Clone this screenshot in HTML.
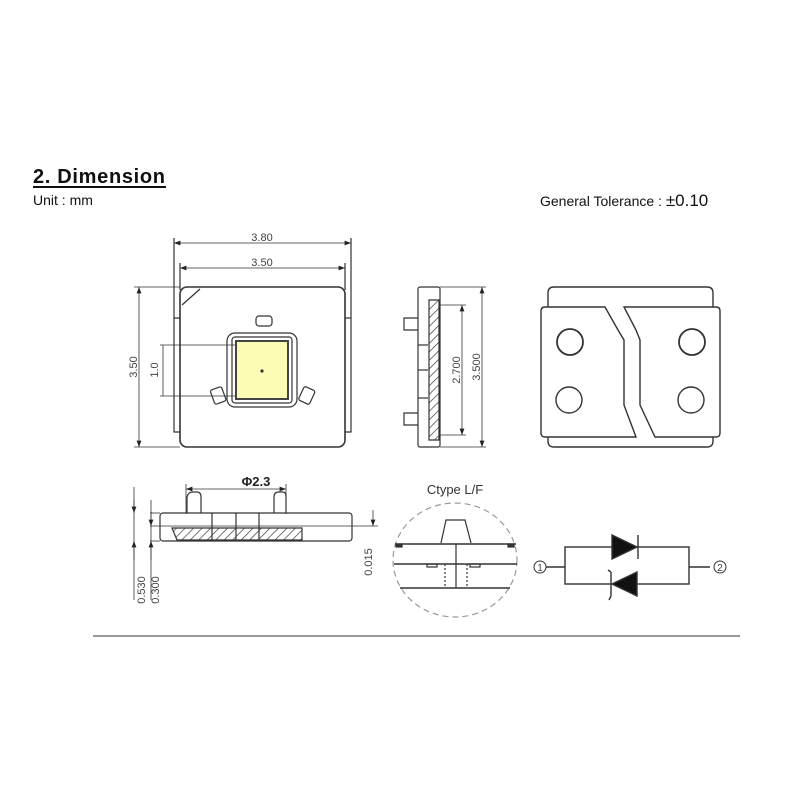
<!DOCTYPE html>
<html><head><meta charset="utf-8"><style>
html,body{margin:0;padding:0;background:#fff;}
svg{display:block;font-family:"Liberation Sans",sans-serif;}
</style></head><body>
<svg width="800" height="800" viewBox="0 0 800 800" xmlns="http://www.w3.org/2000/svg">
<defs>
<pattern id="h" width="6" height="6" patternUnits="userSpaceOnUse" patternTransform="rotate(45)">
<line x1="0" y1="0" x2="0" y2="6" stroke="#333" stroke-width="1.3"/></pattern>
<marker id="a" markerWidth="8" markerHeight="6" refX="8" refY="3" orient="auto-start-reverse"><path d="M0,0L8,3L0,6z" fill="#222"/></marker>
</defs>
<text x="33" y="183" font-size="20" font-weight="bold" fill="#111" textLength="132">2. Dimension</text>
<line x1="33" y1="187" x2="166" y2="187" stroke="#111" stroke-width="2"/>
<text x="33" y="205" font-size="14" fill="#111">Unit : mm</text>
<text x="540" y="206" font-size="14" fill="#111">General Tolerance : <tspan font-size="17">±0.10</tspan></text>

<g fill="none" stroke="#333" stroke-width="1.2">
<line x1="174" y1="238" x2="174" y2="318"/><line x1="351" y1="238" x2="351" y2="318"/>
<line x1="174" y1="243" x2="351" y2="243" marker-start="url(#a)" marker-end="url(#a)" stroke-width="0.8"/>
<line x1="180" y1="263" x2="180" y2="290"/><line x1="345" y1="263" x2="345" y2="290"/>
<line x1="180" y1="268" x2="345" y2="268" marker-start="url(#a)" marker-end="url(#a)" stroke-width="0.8"/>
<path d="M180,318 H174 V432 H180 M345,318 H351 V432 H345"/>
<rect x="180" y="287" width="165" height="160" rx="7" stroke-width="1.6"/>
<path d="M182,305 L200,289"/>
<line x1="134" y1="287" x2="180" y2="287" stroke-width="0.8"/><line x1="134" y1="447" x2="180" y2="447" stroke-width="0.8"/>
<line x1="139" y1="287" x2="139" y2="447" marker-start="url(#a)" marker-end="url(#a)" stroke-width="0.8"/>
<line x1="160" y1="345" x2="236" y2="345" stroke-width="0.8"/><line x1="160" y1="396" x2="236" y2="396" stroke-width="0.8"/>
<line x1="163" y1="345" x2="163" y2="396" stroke-width="0.8"/>
<rect x="256" y="316" width="16" height="10" rx="3"/>
<rect x="227" y="333" width="70" height="74" rx="8"/>
<rect x="232" y="337" width="60" height="66" rx="3"/>
<rect x="236" y="341" width="52" height="58" fill="#fdfcb4" stroke="#444" stroke-width="2"/>
<circle cx="262" cy="371" r="1" fill="#333"/>
<rect x="212" y="388" width="12" height="15" rx="2" transform="rotate(-20 218 395)"/>
<rect x="301" y="388" width="12" height="15" rx="2" transform="rotate(25 307 395)"/>
</g>
<g font-size="11" fill="#444">
<text x="262" y="241" text-anchor="middle">3.80</text>
<text x="262" y="266" text-anchor="middle">3.50</text>
<text transform="translate(137,367) rotate(-90)" text-anchor="middle">3.50</text>
<text transform="translate(158,370) rotate(-90)" text-anchor="middle">1.0</text>
<text transform="translate(460,370) rotate(-90)" text-anchor="middle">2.700</text>
<text transform="translate(480,367) rotate(-90)" text-anchor="middle">3.500</text>
<text transform="translate(145,590) rotate(-90)" text-anchor="middle">0.530</text>
<text transform="translate(159,590) rotate(-90)" text-anchor="middle">0.300</text>
<text transform="translate(372,562) rotate(-90)" text-anchor="middle">0.015</text>
</g>

<g fill="none" stroke="#333" stroke-width="1.2">
<rect x="418" y="287" width="22" height="160" rx="2"/>
<path d="M429,300 H439 V440 H429 Z" fill="url(#h)"/>
<path d="M418,318 H404 V330 H418 M418,413 H404 V425 H418"/>
<line x1="418" y1="345" x2="428" y2="345"/><line x1="418" y1="370" x2="428" y2="370"/><line x1="418" y1="398" x2="428" y2="398"/>
<line x1="440" y1="305" x2="466" y2="305" stroke-width="0.8"/><line x1="440" y1="435" x2="466" y2="435" stroke-width="0.8"/>
<line x1="462" y1="305" x2="462" y2="435" marker-start="url(#a)" marker-end="url(#a)" stroke-width="0.8"/>
<line x1="440" y1="287" x2="486" y2="287" stroke-width="0.8"/><line x1="440" y1="447" x2="486" y2="447" stroke-width="0.8"/>
<line x1="482" y1="287" x2="482" y2="447" marker-start="url(#a)" marker-end="url(#a)" stroke-width="0.8"/>
</g>

<g fill="none" stroke="#333" stroke-width="1.4">
<path d="M548,307 V293 Q548,287 554,287 H707 Q713,287 713,293 V307 M548,437 V441 Q548,447 554,447 H707 Q713,447 713,441 V437"/>
<path d="M545,307 H605 L618,330 L624,340 V405 L636,437 H545 Q541,437 541,433 V311 Q541,307 545,307 Z"/>
<path d="M624,307 H716 Q720,307 720,311 V433 Q720,437 716,437 H655 L640,405 V340 L636,330 Z"/>
<circle cx="570" cy="342" r="13" stroke-width="1.8"/>
<circle cx="692" cy="342" r="13" stroke-width="1.8"/>
<circle cx="569" cy="400" r="13"/>
<circle cx="691" cy="400" r="13"/>
</g>

<g fill="none" stroke="#333" stroke-width="1.2">
<line x1="186" y1="489" x2="286" y2="489" marker-start="url(#a)" marker-end="url(#a)" stroke-width="0.8"/>
<line x1="186" y1="484" x2="186" y2="514" stroke-width="0.8"/><line x1="286" y1="484" x2="286" y2="514" stroke-width="0.8"/>
<path d="M187,513 V497 Q188,492 193,492 H197 Q201,492 201,497 V513 M274,513 V497 Q274,492 279,492 H283 Q286,492 286,497 V513"/>
<rect x="160" y="513" width="192" height="28" rx="3"/>
<path d="M172,528 H302 V540 H177 Z" fill="url(#h)"/>
<line x1="212" y1="513" x2="212" y2="541"/><line x1="236" y1="513" x2="236" y2="541"/><line x1="259" y1="513" x2="259" y2="541"/>
<line x1="150" y1="513" x2="160" y2="513" stroke-width="0.8"/><line x1="150" y1="541" x2="160" y2="541" stroke-width="0.8"/>
<line x1="150" y1="526" x2="378" y2="526" stroke-width="0.8"/>
<line x1="134" y1="487" x2="134" y2="600" stroke-width="0.8"/>
<line x1="151" y1="500" x2="151" y2="600" stroke-width="0.8"/>
<line x1="134" y1="500" x2="134" y2="513" marker-end="url(#a)" stroke-width="0.8"/>
<line x1="134" y1="560" x2="134" y2="541" marker-end="url(#a)" stroke-width="0.8"/>
<line x1="151" y1="512" x2="151" y2="526" marker-end="url(#a)" stroke-width="0.8"/>
<line x1="151" y1="560" x2="151" y2="541" marker-end="url(#a)" stroke-width="0.8"/>
<line x1="373" y1="510" x2="373" y2="526" marker-end="url(#a)" stroke-width="0.8"/>
</g>
<text x="256" y="486" font-size="13" font-weight="bold" fill="#222" text-anchor="middle">Φ2.3</text>

<text x="455" y="494" font-size="13" fill="#333" text-anchor="middle">Ctype L/F</text>
<g fill="none" stroke="#333" stroke-width="1.2">
<ellipse cx="455" cy="560" rx="62" ry="57" stroke="#999" stroke-dasharray="6,4"/>
<path d="M441,543 L446,520 H465 L471,543"/>
<line x1="395" y1="544" x2="516" y2="544" stroke-width="1.5"/>
<line x1="394" y1="564" x2="517" y2="564" stroke-width="1.5"/>
<line x1="400" y1="588" x2="510" y2="588" stroke-width="1.5"/>
<line x1="456" y1="544" x2="456" y2="588"/>
<path d="M445,564 V588 M467,564 V588" stroke-dasharray="2,2"/>
<rect x="396" y="544" width="6" height="3" fill="#333"/><rect x="508" y="544" width="6" height="3" fill="#333"/>
<rect x="427" y="564" width="10" height="3"/><rect x="470" y="564" width="10" height="3"/>
</g>

<g fill="none" stroke="#333" stroke-width="1.4">
<rect x="565" y="547" width="124" height="37"/>
<line x1="546" y1="567" x2="565" y2="567"/><line x1="689" y1="567" x2="710" y2="567"/>
<circle cx="540" cy="567" r="6" stroke-width="1"/>
<circle cx="720" cy="567" r="6" stroke-width="1"/>
<path d="M612,535 L637,547 L612,559 Z" fill="#111"/>
<line x1="638" y1="535" x2="638" y2="559"/>
<path d="M637,572 L612,584 L637,596 Z" fill="#111"/>
<path d="M611,572 V596 M608,570 L611,572 M611,596 L609,600"/>
</g>
<text x="540" y="571" font-size="10" fill="#444" text-anchor="middle">1</text>
<text x="720" y="571" font-size="10" fill="#444" text-anchor="middle">2</text>

<line x1="93" y1="636" x2="740" y2="636" stroke="#777" stroke-width="1.5"/>
</svg>
</body></html>
